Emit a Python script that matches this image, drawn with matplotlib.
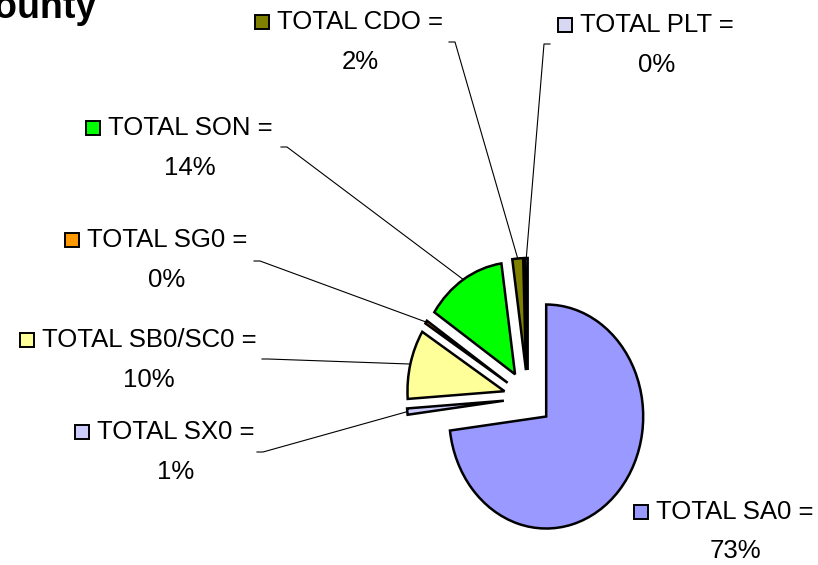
import matplotlib
matplotlib.use("Agg")
import matplotlib.pyplot as plt
import matplotlib.patches as patches
from matplotlib.transforms import IdentityTransform
import numpy as np

W, H = 818, 565

categories = ["TOTAL SA0", "TOTAL SX0", "TOTAL SB0/SC0", "TOTAL SG0",
              "TOTAL SON", "TOTAL CDO", "TOTAL PLT"]
shares = [73.0, 0.9, 10.0, 0.45, 13.4, 1.8, 0.45]
pct_labels = ["73%", "1%", "10%", "0%", "14%", "2%", "0%"]
colors = ["#9999FF", "#CCCCFF", "#FFFF99", "#FF9900", "#00FF00", "#808000", "#D8D8F4"]

FONT = ["Liberation Sans", "DejaVu Sans"]
FS = 18.5

# label layout (pixels from top-left): text centre x, first line y, second line y
label_pos = [(735, 512, 551), (176, 432, 472), (149, 340, 380), (167, 240, 280),
             (190, 128, 168), (360, 22, 62), (657, 25, 65)]
# leader lines: tick start, tick end (pixels); None = no leader
leaders = [None, ((257, 452), (263, 452)), ((262, 359), (268, 359)),
           ((254, 261), (260, 261)), ((281, 147), (287, 147)),
           ((449, 42), (455, 42)), ((550, 44), (544, 44))]

# pie centre and scale in pixels (chart is a bit squashed horizontally)
CX, CY, SX, SY = 528, 398, 97, 112


def px_to_data(px, py):
    return (px - CX) / SX, (CY - py) / SY


fig = plt.figure(figsize=(W / 100, H / 100), dpi=100)
ax = fig.add_axes([0, 0, 1, 1])

wedges, _ = ax.pie(shares, colors=colors, startangle=90, counterclock=False,
                   explode=[0.25] * len(shares), radius=1.0,
                   wedgeprops=dict(edgecolor="black", linewidth=1.8))
ax.set_aspect("auto")
ax.set_xlim(px_to_data(0, 0)[0], px_to_data(W, 0)[0])
ax.set_ylim(px_to_data(0, H)[1], px_to_data(0, 0)[1])
ax.axis("off")

# title (cut off at top-left as in the original)
fig.text(97 / W, 1 - 18 / H, "County", ha="right", va="baseline",
         fontsize=27, fontweight="bold", family=FONT)

renderer = fig.canvas.get_renderer()
for i, w in enumerate(wedges):
    cx, y1, y2 = label_pos[i]
    t1 = fig.text(cx / W, 1 - y1 / H, categories[i] + " =", ha="center", va="center",
                  fontsize=FS, family=FONT)
    fig.text(cx / W, 1 - y2 / H, pct_labels[i], ha="center", va="center",
             fontsize=FS, family=FONT)
    bb = t1.get_window_extent(renderer)
    sq = patches.Rectangle((bb.x0 - 22, H - y1 - 7), 14, 14, transform=IdentityTransform(),
                           facecolor=colors[i], edgecolor="black", linewidth=1.4)
    fig.add_artist(sq)

    if leaders[i] is not None:
        (ax0, ay0), (ax1, ay1) = leaders[i]
        mid = np.deg2rad((w.theta1 + w.theta2) / 2)
        ex = w.center[0] + w.r * np.cos(mid)
        ey = w.center[1] + w.r * np.sin(mid)
        p0 = px_to_data(ax0, ay0)
        p1 = px_to_data(ax1, ay1)
        ax.plot([p0[0], p1[0], ex], [p0[1], p1[1], ey], color="black",
                linewidth=0.8, clip_on=False, zorder=0)

fig.savefig("out.png", dpi=100)
